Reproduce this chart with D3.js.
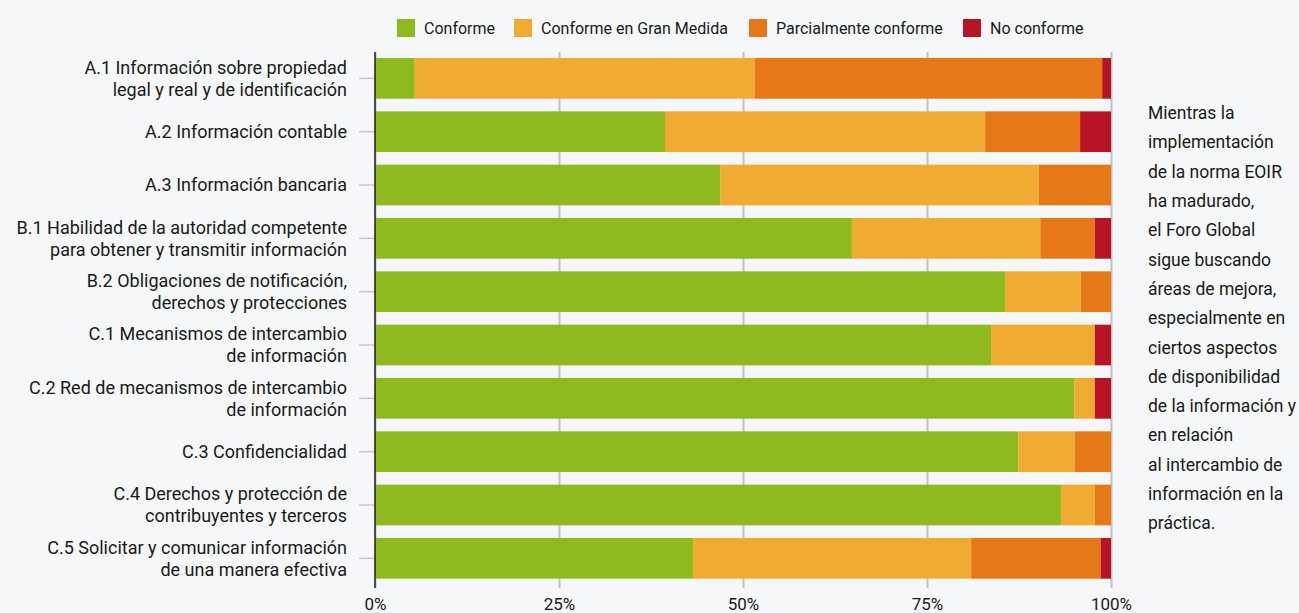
<!DOCTYPE html>
<html>
<head>
<meta charset="utf-8">
<script src="https://cdn.jsdelivr.net/npm/d3@7"></script>
<style>
  body { margin: 0; background: #f6f7f9; }
  svg { display: block; }
</style>
</head>
<body>
<div id="chart"></div>
<script>
// data
const categories = [
  ['A.1 Información sobre propiedad', 'legal y real y de identificación'],
  ['A.2 Información contable'],
  ['A.3 Información bancaria'],
  ['B.1 Habilidad de la autoridad competente', 'para obtener y transmitir información'],
  ['B.2 Obligaciones de notificación,', 'derechos y protecciones'],
  ['C.1 Mecanismos de intercambio', 'de información'],
  ['C.2 Red de mecanismos de intercambio', 'de información'],
  ['C.3 Confidencialidad'],
  ['C.4 Derechos y protección de', 'contribuyentes y terceros'],
  ['C.5 Solicitar y comunicar información', 'de una manera efectiva']
];
const conforme    = [5.4, 39.4, 46.9, 64.8, 85.6, 83.7, 95.0, 87.4, 93.2, 43.2];
const granMedida  = [46.2, 43.5, 43.3, 25.6, 10.3, 14.1, 2.8, 7.7, 4.6, 37.8];
const parcial     = [47.2, 12.9, 9.8, 7.4, 4.1, 0, 0, 4.9, 2.2, 17.6];
const noConforme  = [1.2, 4.2, 0, 2.2, 0, 2.2, 2.2, 0, 0, 1.4];
const seriesNames = ['Conforme', 'Conforme en Gran Medida', 'Parcialmente conforme', 'No conforme'];
const xTicks = [0, 25, 50, 75, 100];
const sideNote = [
  'Mientras la', 'implementación', 'de la norma EOIR', 'ha madurado,', 'el Foro Global',
  'sigue buscando', 'áreas de mejora,', 'especialmente en', 'ciertos aspectos',
  'de disponibilidad', 'de la información y', 'en relación', 'al intercambio de',
  'información en la', 'práctica.'
];

// constants
const width = 1299;
const height = 613;
const colors = ['#8fba1f', '#f0ab32', '#e77817', '#b71526'];
const fontFamily = 'Roboto, "Liberation Sans", sans-serif';
const textColor = '#1a1a1a';

const svg = d3.select('#chart').append('svg')
  .attr('width', width)
  .attr('height', height);

svg.append('rect').attr('width', width).attr('height', height).attr('fill', '#f6f7f9');

const keys = categories.map(c => c[0]);
const rows = keys.map((k, i) => ({
  key: k,
  [seriesNames[0]]: conforme[i],
  [seriesNames[1]]: granMedida[i],
  [seriesNames[2]]: parcial[i],
  [seriesNames[3]]: noConforme[i]
}));

const xScale = d3.scaleLinear().domain([0, 100]).range([375, 1111]);
const yScale = d3.scaleBand().domain(keys).range([51.7, 585]).paddingInner(0.237).paddingOuter(0.1185);

// vertical grid + x labels
const xAxis = svg.append('g')
  .attr('transform', 'translate(0,588)')
  .call(d3.axisBottom(xScale).tickValues(xTicks).tickFormat(d => d + '%')
    .tickSize(-(588 - 52)).tickPadding(10));
xAxis.select('.domain').remove();
xAxis.selectAll('.tick line').attr('stroke', '#c2c2c4').attr('stroke-width', 2);
xAxis.selectAll('.tick text')
  .style('font-family', fontFamily).style('font-size', '17px').attr('fill', textColor);

// stacked bars
const stacked = d3.stack().keys(seriesNames)(rows);
svg.append('g').selectAll('g')
  .data(stacked)
  .join('g')
    .attr('fill', (d, i) => colors[i])
  .selectAll('rect')
  .data(d => d)
  .join('rect')
    .attr('x', d => xScale(d[0]))
    .attr('width', d => xScale(d[1]) - xScale(d[0]))
    .attr('y', d => yScale(d.data.key))
    .attr('height', yScale.bandwidth());

// y axis
const yAxis = svg.append('g')
  .attr('transform', 'translate(375,0)')
  .call(d3.axisLeft(yScale).tickSize(16).tickFormat(''));
yAxis.select('.domain').remove();
yAxis.selectAll('.tick line').attr('stroke', '#c8c8ca').attr('stroke-width', 1.5);
svg.append('line')
  .attr('x1', 375).attr('x2', 375).attr('y1', 52).attr('y2', 588)
  .attr('stroke', '#222').attr('stroke-width', 1.5);

const labels = svg.append('g')
  .selectAll('text')
  .data(categories)
  .join('text')
    .attr('x', 347)
    .attr('y', (d, i) => yScale(keys[i]) + yScale.bandwidth() / 2)
    .attr('text-anchor', 'end')
    .style('font-family', fontFamily)
    .style('font-size', '18px')
    .attr('fill', textColor);
labels.selectAll('tspan')
  .data(d => d.map((t, j) => ({t, j, n: d.length})))
  .join('tspan')
    .attr('x', 347)
    .attr('dy', d => d.j === 0 ? (d.n === 1 ? '0.35em' : (0.35 - 0.61) + 'em') : '1.22em')
    .text(d => d.t);

// legend
const legendX = [397, 514, 749, 963];
const legend = svg.append('g').selectAll('g')
  .data(seriesNames)
  .join('g')
    .attr('transform', (d, i) => `translate(${legendX[i]},19)`);
legend.append('rect').attr('width', 18).attr('height', 18).attr('fill', (d, i) => colors[i]);
legend.append('text')
  .attr('x', 27).attr('y', 9).attr('dy', '0.35em')
  .style('font-family', fontFamily).style('font-size', '16px').attr('fill', textColor)
  .text(d => d);

// side note
svg.append('g').selectAll('text')
  .data(sideNote)
  .join('text')
    .attr('x', 1148)
    .attr('y', (d, i) => 113 + i * 29.3)
    .attr('dy', '0.35em')
    .style('font-family', fontFamily).style('font-size', '17.5px').attr('fill', textColor)
    .text(d => d);
</script>
</body>
</html>
